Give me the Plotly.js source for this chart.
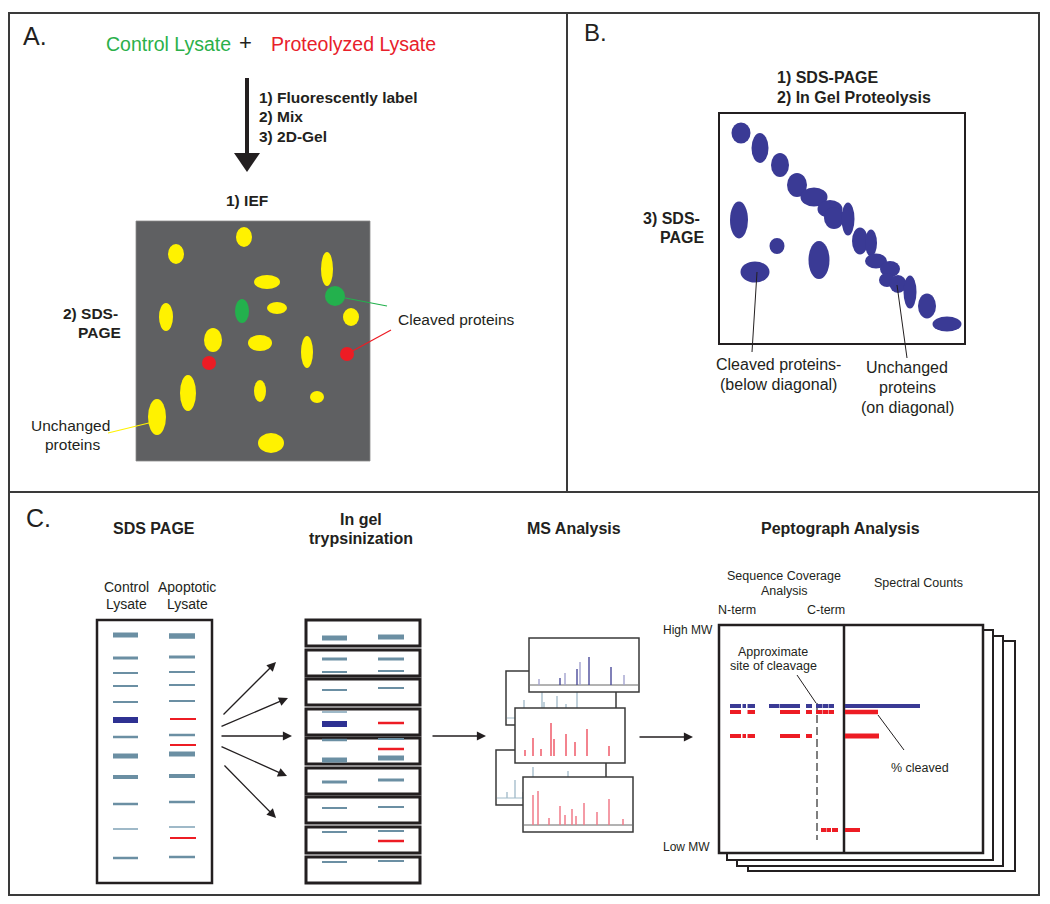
<!DOCTYPE html>
<html>
<head>
<meta charset="utf-8">
<script src="https://cdn.plot.ly/plotly-3.0.1.min.js"></script>
<style>html,body{margin:0;padding:0;background:#fff;}#chart{width:1050px;height:904px;}</style>
</head>
<body>
<div id="chart"></div>
<script>
// ---------- DATA (pixel-space diagram coordinates) ----------
// Panel A: 2D gel spots  [cx, cy, rx, ry, kind]  kind: y=unchanged, g=control-only, r=proteolyzed
const gelA_spots = [
  [244,237,8,10,'y'],[176,254,8,10,'y'],[327,269,6,17,'y'],[267,282,13,7,'y'],
  [335,296,10,10,'g'],[166,317,7,14,'y'],[242,311,7,12,'g'],[277,308,10,6,'y'],
  [351,317,8,9,'y'],[213,340,9,12,'y'],[260,343,12,8,'y'],[307,352,6,16,'y'],
  [347,354,7,7,'r'],[209,363,7,7,'r'],[188,393,8,18,'y'],[260,391,6,11,'y'],
  [317,397,7,6,'y'],[157,417,9,18,'y'],[271,443,13,10,'y']
];
// Panel B: diagonal gel spots [cx, cy, rx, ry]
const gelB_diag = [
  [741,133,9.5,10.5],[760,148,8.5,15],[780,165,9,12],[797,185,10,12],[814,197,13.5,9.5],
  [830,209,12.5,9],[834,218,10,11],[848,219,6.5,16.5],[860,241,8,13.5],[871,243,6,13.5],
  [876,261,11,7.5],[890,269,10,8],[887,280,8,7],[898,284,8.5,9],[910,292,6.5,16.5],
  [927,306,9,12.5],[947,324,14.5,7.5]
];
const gelB_off = [[739,220,9,18.5],[777,246,7.5,8],[819,260,10.5,19],[755,272,14.5,10.5]];

// Panel C: SDS-PAGE lanes  [y, thickness, kind]  kind: s=steel, n=navy, r=red, l=light
const laneControl = [[635,5,'s'],[658,3,'s'],[673,2,'s'],[686,2,'s'],[702,2,'s'],[720,6,'n'],[737,2.5,'s'],[756,5,'s'],[777,4,'s'],[804,2.5,'s'],[829,2,'l'],[858,2.5,'s']];
const laneApoptotic = [[636,5.5,'s'],[657,3,'s'],[672,2,'s'],[685,2,'s'],[701,2,'s'],[719,2,'r'],[735,2.5,'s'],[745,2,'r'],[754,5,'s'],[776,4,'s'],[802,2.5,'s'],[827,2,'l'],[838,2,'r'],[857,2.5,'s']];
// In-gel trypsinization slices: top of each slice
const sliceTops = [620,650,679,709,738,768,797,827,857];
// bands inside slices [y, thickness, kind, lane]  lane: L/R
const sliceBands = [
  [638,5,'s','L'],[637,5,'s','R'],
  [659,3,'s','L'],[672,2,'s','L'],[659,3,'s','R'],[671,2,'s','R'],
  [690,2,'s','L'],[688,2,'s','R'],
  [712,2,'l','L'],[724,6,'n','L'],[723,2.5,'r','R'],
  [740,2.5,'s','L'],[760,5,'s','L'],[739,2,'s','R'],[749,2.5,'r','R'],[758,5,'s','R'],
  [782,3,'s','L'],[780,3,'s','R'],
  [808,2,'s','L'],[807,2,'s','R'],
  [832,2,'s','L'],[831,2,'s','R'],[841,2.5,'r','R'],
  [862,2,'s','L'],[861,2,'s','R']
];
// arrows fanning from gel to slices [tailX, tailY, headX, headY]
const fanArrows = [[222,716,276,662],[220,727,288,698],[220,736,292,736],[220,746,287,776],[223,764,276,818]];

// MS spectra peaks [x, topY, shade]
const ms1_peaks = [[539,679,'l'],[560,678,'d'],[565,673,'l'],[577,669,'d'],[580,662,'l'],[589,657,'d'],[611,667,'d'],[624,675,'l']];
const ms2_peaks = [[525,750],[533,738],[541,749],[551,723],[554,739],[566,734],[575,742],[587,729],[609,746]];
const ms3_peaks = [[533,795],[538,791],[549,818],[560,806],[565,815],[572,809],[576,816],[584,803],[597,812],[609,799],[623,819]];
const msBack1_peaks = [[524,700],[542,692],[544,702],[557,696],[566,704],[577,692]];
const msBack2_peaks = [[507,792],[515,780],[523,792],[533,767],[568,771]];

// Peptograph sequence coverage segments [x0, x1, y, kind]
const pepSegments = [
  [730,741,706,'b'],[742.5,746,706,'b'],[747.5,755,706,'b'],[769,779.5,706,'b'],[780,800,706,'b'],[806,812,706,'b'],[816,822,706,'b'],[822.5,828,706,'b'],[828.5,834,706,'b'],
  [730,741,712,'r'],[747.5,755,712,'r'],[780,800,712,'r'],[806,812,712,'r'],[816,822,712,'r'],[822.5,828,712,'r'],[828.5,834,712,'r'],
  [730,741,736,'r'],[742.5,746,736,'r'],[747.5,755,736,'r'],[780,800,736,'r'],[806,812,736,'r'],
  [821,826,830,'r'],[826.5,831,830,'r'],[832,838,830,'r']
];
// spectral count bars [x1 (end), y, thickness, kind], start at divider
const pepCounts = [[920,706,4,'b'],[878,712,4.5,'r'],[879,736,5,'r'],[860,830,4,'r']];

// ---------- STYLE ----------
const FONT = 'Liberation Sans, Arial, Helvetica, sans-serif';
const INK = '#231f20';
const COL = {y:'#fff200', g:'#23b14d', r:'#ed1c24', s:'#6b8fa3', n:'#2e3192', l:'#9fb9c8', b:'#3a3a95'};

const shapes = [];
const ann = [];
function rect(x0,y0,x1,y1,fill,lc,lw){shapes.push({type:'rect',xref:'x',yref:'y',x0,y0,x1,y1,fillcolor:fill||'rgba(0,0,0,0)',line:{color:lc||'rgba(0,0,0,0)',width:lw||0}});}
function ell(cx,cy,rx,ry,fill){shapes.push({type:'circle',xref:'x',yref:'y',x0:cx-rx,x1:cx+rx,y0:cy-ry,y1:cy+ry,fillcolor:fill,line:{width:0}});}
function seg(x0,y0,x1,y1,c,w,dash){shapes.push({type:'line',xref:'x',yref:'y',x0,y0,x1,y1,line:{color:c,width:w,dash:dash||'solid'}});}
function path(p,fill){shapes.push({type:'path',xref:'x',yref:'y',path:p,fillcolor:fill,line:{width:0}});}
function txt(x,y,t,size,o){o=o||{};ann.push({xref:'x',yref:'y',x,y,text:o.bold?'<b>'+t+'</b>':t,showarrow:false,xanchor:o.a||'center',yanchor:'middle',font:{family:FONT,size,color:o.c||INK}});}
function arrow(tx,ty,hx,hy){ann.push({xref:'x',yref:'y',axref:'x',ayref:'y',x:hx,y:hy,ax:tx,ay:ty,text:'',showarrow:true,arrowhead:2,arrowsize:1.4,arrowwidth:1.3,arrowcolor:INK,standoff:0,startstandoff:0});}

// ---------- FRAME ----------
rect(9,13,1039,895,'#fff','#3a3a3a',2);
seg(9,492,1039,492,'#3a3a3a',2);
seg(567,13,567,492,'#3a3a3a',2);

// ---------- PANEL A ----------
txt(21,36,'A.',25,{a:'left'});
txt(104,44,'Control Lysate',19.5,{a:'left',c:'#2bb04a'});
txt(245,42,'+',22,{});
txt(269,44,'Proteolyzed Lysate',19.5,{a:'left',c:'#e8202a'});
seg(247,78,247,156,INK,4);
path('M 234 153 L 260 153 L 247 172 Z',INK);
txt(257,97,'1) Fluorescently label',15.5,{a:'left',bold:true});
txt(257,116,'2) Mix',15.5,{a:'left',bold:true});
txt(257,136,'3) 2D-Gel',15.5,{a:'left',bold:true});
txt(247,200,'1) IEF',15.5,{bold:true});
txt(120,313,'2) SDS-',15.5,{a:'right',bold:true});
txt(123,332,'PAGE',15.5,{a:'right',bold:true});
rect(136,221,370,461,'#5f6062','#8a8a8a',0.8);
// leader lines (under spots)
seg(335,296,387,306,'#23b14d',1.2);
seg(347,354,391,330,'#ed1c24',1.2);
seg(157,421,108,433,'#fff200',1.2);
gelA_spots.forEach(s=>ell(s[0],s[1],s[2],s[3],COL[s[4]]));
txt(396,319,'Cleaved proteins',15.5,{a:'left'});
txt(70,425,'Unchanged',15.5,{});
txt(72,444,'proteins',15.5,{});

// ---------- PANEL B ----------
txt(582,32,'B.',24,{a:'left'});
txt(775,77,'1) SDS-PAGE',16,{a:'left',bold:true});
txt(775,97,'2) In Gel Proteolysis',16,{a:'left',bold:true});
txt(702,218,'3) SDS-',16,{a:'right',bold:true});
txt(706,237,'PAGE',16,{a:'right',bold:true});
rect(719,113,965,344,'#fff',INK,2);
gelB_diag.forEach(s=>ell(s[0],s[1],s[2],s[3],COL.b));
gelB_off.forEach(s=>ell(s[0],s[1],s[2],s[3],COL.b));
seg(757,272,752,352,INK,1);
seg(897,285,907,358,INK,1);
txt(778,364,'Cleaved proteins-',16,{});
txt(778,384,'(below diagonal)',16,{});
txt(907,367,'Unchanged',16,{});
txt(907,387,'proteins',16,{});
txt(907,407,'(on diagonal)',16,{});

// ---------- PANEL C ----------
txt(24,518,'C.',25,{a:'left'});
txt(154,528,'SDS PAGE',16,{bold:true});
txt(361,519,'In gel',16,{bold:true});
txt(361,538,'trypsinization',16,{bold:true});
txt(574,528,'MS Analysis',16,{bold:true});
txt(840,528,'Peptograph Analysis',16,{bold:true});
txt(126,587,'Control',14,{});
txt(126,604,'Lysate',14,{});
txt(187,587,'Apoptotic',14,{});
txt(187,604,'Lysate',14,{});

// SDS gel
rect(97,620,212,883,'#fff',INK,2.5);
laneControl.forEach(b=>seg(113,b[0],138,b[0],COL[b[2]],b[1]));
laneApoptotic.forEach(b=>seg(b[2]==='r'?170:169,b[0],b[2]==='r'?196:195,b[0],COL[b[2]],b[1]));
fanArrows.forEach(a=>arrow(a[0],a[1],a[2],a[3]));

// slices
sliceTops.forEach(t=>rect(306,t,420,t+26,'#fff',INK,3));
sliceBands.forEach(b=>{const x0=b[3]==='L'?322:378, x1=b[3]==='L'?347:404; seg(x0,b[0],x1,b[0],COL[b[2]],b[1]);});
arrow(431,736,486,736);

// MS spectra
rect(506,671,616,725,'#fff','#3a3a3a',1.5);
seg(507,718,616,718,'#9fb9c8',1.2);
msBack1_peaks.forEach(p=>seg(p[0],718,p[0],p[1],'#9fb9c8',1.3));
rect(496,750,606,805,'#fff','#3a3a3a',1.5);
seg(497,798,606,798,'#9fb9c8',1.2);
msBack2_peaks.forEach(p=>seg(p[0],798,p[0],p[1],'#9fb9c8',1.3));
rect(529,638,639,692,'#fff','#3a3a3a',1.5);
seg(530,685,638,685,'#666',1);
ms1_peaks.forEach(p=>seg(p[0],685,p[0],p[1],p[2]==='d'?'#4a4a9a':'#a3a3cf',1.4));
rect(515,708,625,763,'#fff','#3a3a3a',1.5);
ms2_peaks.forEach(p=>seg(p[0],756,p[0],p[1],'#ef5a69',1.5));
rect(523,777,633,832,'#fff','#3a3a3a',1.5);
seg(524,825,632,825,'#666',1);
ms3_peaks.forEach(p=>seg(p[0],825,p[0],p[1],'#f17a88',1.5));
arrow(638,737,693,737);

// Peptograph
rect(748,641,1015,871,'#fff',INK,2);
rect(737,636,1003,866,'#fff',INK,2);
rect(727,630,993,860,'#fff',INK,2);
rect(719,625,983,853,'#fff',INK,2.5);
seg(844,625,844,853,INK,2.5);
txt(784,576,'Sequence Coverage',12.5,{});
txt(784,591,'Analysis',12.5,{});
txt(918,583,'Spectral Counts',12.5,{});
txt(737,610,'N-term',12.5,{});
txt(826,610,'C-term',12.5,{});
txt(661,630,'High MW',12,{a:'left'});
txt(661,847,'Low MW',12,{a:'left'});
txt(773,652,'Approximate',12.5,{});
txt(773,666,'site of cleavage',12.5,{});
seg(797,675,816,703,INK,1);
seg(817,703,817,840,'#555',1.5,'8px,4px');
pepSegments.forEach(s=>rect(s[0],s[2]-2,s[1],s[2]+2,COL[s[3]==='b'?'b':'r']));
pepCounts.forEach(c=>rect(845,c[1]-c[2]/2,c[0],c[1]+c[2]/2,COL[c[3]==='b'?'b':'r']));
seg(878,715,904,750,INK,1);
txt(920,768,'% cleaved',12.5,{});

const layout = {
  width:1050,height:904,margin:{l:0,r:0,t:0,b:0},
  paper_bgcolor:'#fff',plot_bgcolor:'#fff',showlegend:false,
  xaxis:{range:[0,1050],visible:false,fixedrange:true},
  yaxis:{range:[904,0],visible:false,fixedrange:true},
  shapes:shapes,annotations:ann
};
Plotly.newPlot('chart',[{x:[0],y:[0],mode:'markers',marker:{opacity:0},hoverinfo:'skip'}],layout,{displayModeBar:false,staticPlot:true});
</script>
</body>
</html>
